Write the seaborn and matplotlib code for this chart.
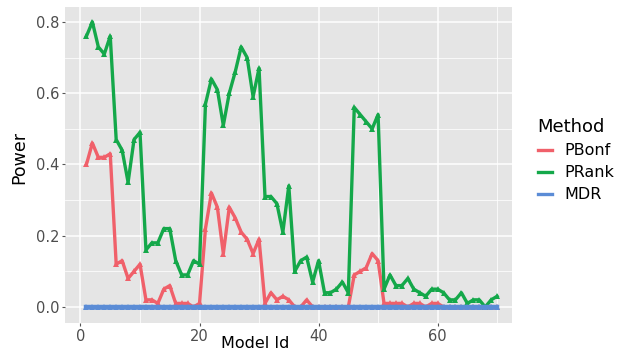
import numpy as np
import pandas as pd
import matplotlib
matplotlib.use("Agg")
import matplotlib.pyplot as plt
from matplotlib.lines import Line2D
import seaborn as sns

model_id = list(range(1, 71))
methods = ["PBonf", "PRank", "MDR"]

pbonf = [0.40, 0.46, 0.42, 0.42, 0.43, 0.12, 0.13, 0.08, 0.10, 0.12,
         0.02, 0.02, 0.01, 0.05, 0.06, 0.01, 0.01, 0.01, 0.00, 0.01,
         0.22, 0.32, 0.28, 0.15, 0.28, 0.25, 0.21, 0.19, 0.15, 0.19,
         0.01, 0.04, 0.02, 0.03, 0.02, 0.00, 0.00, 0.02, 0.00, 0.00,
         0.00, 0.00, 0.00, 0.00, 0.00, 0.09, 0.10, 0.11, 0.15, 0.13,
         0.01, 0.01, 0.01, 0.01, 0.00, 0.01, 0.01, 0.00, 0.01, 0.01,
         0.00, 0.00, 0.00, 0.00, 0.00, 0.00, 0.00, 0.00, 0.00, 0.00]

prank = [0.76, 0.80, 0.73, 0.71, 0.76, 0.47, 0.44, 0.35, 0.47, 0.49,
         0.16, 0.18, 0.18, 0.22, 0.22, 0.13, 0.09, 0.09, 0.13, 0.12,
         0.57, 0.64, 0.61, 0.51, 0.60, 0.66, 0.73, 0.70, 0.59, 0.67,
         0.31, 0.31, 0.29, 0.21, 0.34, 0.10, 0.13, 0.14, 0.07, 0.13,
         0.04, 0.04, 0.05, 0.07, 0.04, 0.56, 0.54, 0.52, 0.50, 0.54,
         0.05, 0.09, 0.06, 0.06, 0.08, 0.05, 0.04, 0.03, 0.05, 0.05,
         0.04, 0.02, 0.02, 0.04, 0.01, 0.02, 0.02, 0.00, 0.02, 0.03]

mdr = [0.0] * 70

y_ticks = [0.0, 0.2, 0.4, 0.6, 0.8]
x_ticks = [0, 20, 40, 60]

colors = {"PBonf": "#F0606A", "PRank": "#14A84A", "MDR": "#5B8CD6"}

df = pd.DataFrame({
    "Model Id": model_id * 3,
    "Power": pbonf + prank + mdr,
    "Method": ["PBonf"] * 70 + ["PRank"] * 70 + ["MDR"] * 70,
})

plt.rcParams["font.family"] = ["DejaVu Sans"]

fig = plt.figure(figsize=(6.25, 3.51), dpi=100)
ax = fig.add_axes([65 / 625, 1 - 323 / 351, 447 / 625, 316 / 351])
ax.set_facecolor("#E5E5E5")

sns.lineplot(data=df, x="Model Id", y="Power", hue="Method", hue_order=methods,
             palette=colors, style="Method", markers={m: "^" for m in methods},
             dashes=False, markersize=4.5, markeredgewidth=0, linewidth=2.4,
             legend=False, ax=ax)
ax.lines[2].set_linewidth(3.2)

ax.set_xlim(-2.6, 72.5)
ax.set_ylim(-0.045, 0.842)
ax.set_xticks(x_ticks)
ax.set_yticks(y_ticks)
ax.set_xticks([10, 30, 50, 70], minor=True)
ax.set_yticks([0.1, 0.3, 0.5, 0.7], minor=True)
ax.set_xticklabels([str(t) for t in x_ticks])
ax.set_yticklabels([f"{t:.1f}" for t in y_ticks])
ax.grid(which="major", color="white", linewidth=1.1)
ax.grid(which="minor", color="white", linewidth=0.55)
ax.set_axisbelow(True)
for s in ax.spines.values():
    s.set_visible(False)
ax.tick_params(axis="both", which="major", length=2.5, color="#555555",
               labelsize=10.5, labelcolor="#4D4D4D", pad=1.5)
ax.tick_params(axis="both", which="minor", length=0)

ax.set_xlabel("Model Id", fontsize=11.5, color="black")
ax.xaxis.label.set_va("center")
ax.xaxis.set_label_coords((255 - 65) / 447, (323 - 344) / 316)
ax.set_ylabel("Power", fontsize=12.5, color="black")
ax.yaxis.label.set_va("center")
ax.yaxis.set_label_coords((19 - 65) / 447, (323 - 158) / 316)

handles = [Line2D([0], [0], color=colors[m], linewidth=2.4) for m in methods]
leg = fig.legend(handles, methods, title="Method", loc="upper left",
                 bbox_to_anchor=(0.837, 0.705), frameon=False, fontsize=11.5,
                 title_fontsize=13, handlelength=0.9, handletextpad=0.8,
                 labelspacing=0.45)
leg._legend_box.align = "left"

fig.savefig("out.png", dpi=100, facecolor="white")
